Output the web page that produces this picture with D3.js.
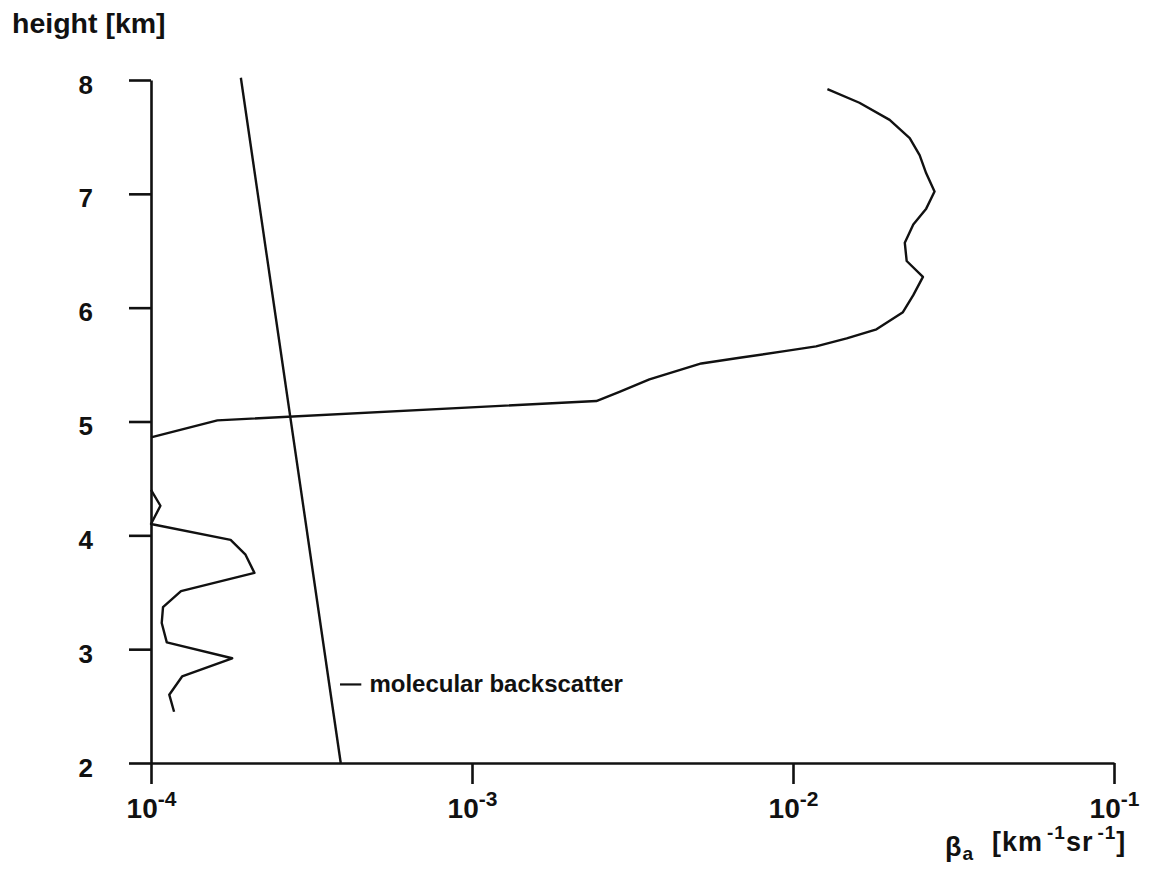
<!DOCTYPE html>
<html>
<head>
<meta charset="utf-8">
<script src="https://cdn.jsdelivr.net/npm/d3@7"></script>
<style>
body { margin: 0; background: #fff; }
text { font-family: "Liberation Sans", Arial, sans-serif; font-weight: bold; fill: #111; }
</style>
</head>
<body>
<div id="chart"></div>
<script>

///// Data (beta_a in km-1 sr-1, height in km)

// lower aerosol layer
var lowBeta   = [1.18e-4, 1.14e-4, 1.25e-4, 1.79e-4, 1.12e-4, 1.08e-4, 1.09e-4, 1.24e-4,
                 2.10e-4, 1.97e-4, 1.77e-4, 1.0e-4, 1.07e-4, 1.0e-4];
var lowHeight = [2.45, 2.60, 2.76, 2.92, 3.06, 3.23, 3.37, 3.51,
                 3.67, 3.83, 3.96, 4.10, 4.26, 4.40];

// upper aerosol layer (cloud)
var upBeta   = [1.0e-4, 1.61e-4, 2.44e-3, 2.88e-3, 3.57e-3, 5.18e-3, 6.82e-3, 9.53e-3,
                1.18e-2, 1.47e-2, 1.82e-2, 2.20e-2, 2.37e-2, 2.54e-2, 2.26e-2, 2.23e-2,
                2.37e-2, 2.60e-2, 2.76e-2, 2.60e-2, 2.48e-2, 2.31e-2, 2.00e-2, 1.61e-2, 1.28e-2];
var upHeight = [4.86, 5.01, 5.18, 5.26, 5.37, 5.51, 5.56, 5.62,
                5.66, 5.73, 5.81, 5.96, 6.11, 6.27, 6.41, 6.57,
                6.73, 6.87, 7.02, 7.18, 7.34, 7.49, 7.65, 7.80, 7.92];

// molecular backscatter
var molBeta   = [1.905e-4, 3.9e-4];
var molHeight = [8.02, 2.0];

var xTicks = [1e-4, 1e-3, 1e-2, 1e-1];
var xTickExp = ["-4", "-3", "-2", "-1"];
var yTicks = [2, 3, 4, 5, 6, 7, 8];

///// Chart

var W = 1149, H = 872;
var x = d3.scaleLog().domain([1e-4, 1e-1]).range([151, 1114]);
var y = d3.scaleLinear().domain([2, 8]).range([763, 80]);

var svg = d3.select("#chart").append("svg")
    .attr("width", W)
    .attr("height", H);

svg.append("rect").attr("width", W).attr("height", H).attr("fill", "#fff");

function zip(xs, ys) {
    return xs.map(function(v, i) { return [v, ys[i]]; });
}

var line = d3.line()
    .x(function(d) { return x(d[0]); })
    .y(function(d) { return y(d[1]); });

// Y axis
var yAxis = svg.append("g")
    .attr("transform", "translate(" + x(1e-4) + ",0)")
    .call(d3.axisLeft(y).tickValues(yTicks).tickSize(22).tickSizeOuter(0).tickPadding(36)
        .tickFormat(d3.format("d")));

// X axis
var xAxis = svg.append("g")
    .attr("transform", "translate(0," + y(2) + ")")
    .call(d3.axisBottom(x).tickValues(xTicks).tickSize(21).tickSizeOuter(0).tickFormat(""));

svg.selectAll(".domain, .tick line")
    .attr("stroke", "#111")
    .attr("stroke-width", 2.6);

yAxis.selectAll(".tick text")
    .attr("font-size", 26)
    .attr("font-family", null)
    .attr("dy", "0.5em")
    .attr("fill", "#111");

// log tick labels 10^n
xAxis.selectAll(".tick").each(function(d, i) {
    var t = d3.select(this).append("text")
        .attr("y", 55)
        .attr("text-anchor", "middle");
    t.append("tspan").attr("font-size", 28).text("10");
    t.append("tspan").attr("font-size", 21).attr("dy", -12).text(xTickExp[i]);
});

// data lines
[zip(lowBeta, lowHeight), zip(upBeta, upHeight), zip(molBeta, molHeight)].forEach(function(d) {
    svg.append("path")
        .datum(d)
        .attr("fill", "none")
        .attr("stroke", "#111")
        .attr("stroke-width", 2.4)
        .attr("stroke-linejoin", "round")
        .attr("d", line);
});

// annotation for the molecular line
var annY = y(2.69);
svg.append("line")
    .attr("x1", x(3.88e-4)).attr("x2", x(4.52e-4))
    .attr("y1", annY).attr("y2", annY)
    .attr("stroke", "#111").attr("stroke-width", 2.2);
svg.append("text")
    .attr("x", x(4.79e-4))
    .attr("y", annY + 8)
    .attr("font-size", 24)
    .text("molecular backscatter");

// axis titles
svg.append("text")
    .attr("x", 12)
    .attr("y", 33)
    .attr("font-size", 28.5)
    .text("height [km]");

var xt = svg.append("text")
    .attr("x", 945)
    .attr("y", 851)
    .attr("font-size", 27)
    .attr("letter-spacing", 1);
xt.append("tspan").attr("font-size", 27).attr("dy", 5).text("β");
xt.append("tspan").attr("font-size", 19).attr("dy", 4).text("a");
xt.append("tspan").attr("x", 992).attr("y", 851).text("[km");
xt.append("tspan").attr("font-size", 19).attr("dx", 4).attr("dy", -12).text("-1");
xt.append("tspan").attr("dy", 12).text("sr");
xt.append("tspan").attr("font-size", 19).attr("dx", 4).attr("dy", -12).text("-1");
xt.append("tspan").attr("dy", 12).text("]");

</script>
</body>
</html>
